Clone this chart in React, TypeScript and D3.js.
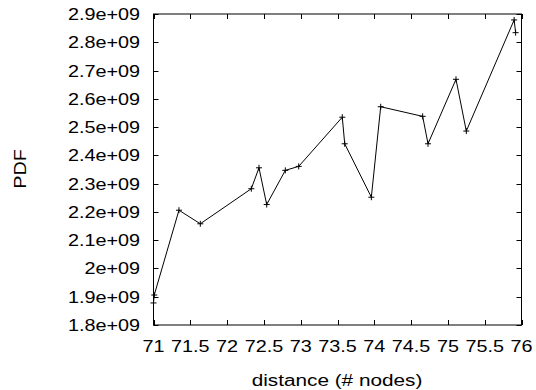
import React, { useEffect, useRef } from 'react';
import * as d3 from 'd3';

// distance (# nodes) vs PDF
const distance = [71.0, 71.01, 71.346, 71.636, 72.329, 72.433, 72.538, 72.791, 72.973, 73.565, 73.598, 73.96, 74.087, 74.657, 74.73, 75.11, 75.25, 75.9, 75.92];
const pdf = [1.878e9, 1.906e9, 2.206e9, 2.158e9, 2.282e9, 2.356e9, 2.226e9, 2.347e9, 2.361e9, 2.535e9, 2.441e9, 2.252e9, 2.572e9, 2.538e9, 2.441e9, 2.669e9, 2.486e9, 2.879e9, 2.834e9];
const xTicks = [71, 71.5, 72, 72.5, 73, 73.5, 74, 74.5, 75, 75.5, 76];
const yTicks = [1.8e9, 1.9e9, 2.0e9, 2.1e9, 2.2e9, 2.3e9, 2.4e9, 2.5e9, 2.6e9, 2.7e9, 2.8e9, 2.9e9];
const yTickLabels = ['1.8e+09', '1.9e+09', '2e+09', '2.1e+09', '2.2e+09', '2.3e+09', '2.4e+09', '2.5e+09', '2.6e+09', '2.7e+09', '2.8e+09', '2.9e+09'];

const width = 536;
const height = 390;
const left = 153.5;
const right = 521.5;
const top = 14;
const bottom = 325;
const font = '"Liberation Sans", Arial, sans-serif';
const stretch = 1.2;

export default function App() {
    const ref = useRef<SVGSVGElement>(null);

    useEffect(() => {
        const svg = d3.select(ref.current);
        svg.selectAll('*').remove();

        const x = d3.scaleLinear().domain([71, 76]).range([left, right]);
        const y = d3.scaleLinear().domain([1.8e9, 2.9e9]).range([bottom, top]);

        const addText = (tx: number, ty: number, str: string, anchor: string, rot = 0, size = 16.5) => {
            svg.append('text')
                .attr('transform', `translate(${tx},${ty}) rotate(${rot}) scale(${stretch},1)`)
                .attr('text-anchor', anchor)
                .attr('font-family', font)
                .attr('font-size', size)
                .attr('fill', '#000')
                .text(str);
        };

        // ticks, mirrored on all four sides, pointing inwards
        const tickLen = 5;
        const ticks = svg.append('g').attr('stroke', '#000').attr('stroke-width', 1);
        xTicks.forEach(t => {
            const px = Math.round(x(t)) + 0.5;
            ticks.append('line').attr('x1', px).attr('x2', px).attr('y1', bottom).attr('y2', bottom - tickLen);
            ticks.append('line').attr('x1', px).attr('x2', px).attr('y1', top).attr('y2', top + tickLen);
            addText(x(t), 352, String(t), 'middle');
        });
        yTicks.forEach((t, i) => {
            const py = Math.round(y(t)) + 0.5;
            ticks.append('line').attr('x1', left).attr('x2', left + tickLen).attr('y1', py).attr('y2', py);
            ticks.append('line').attr('x1', right).attr('x2', right - tickLen).attr('y1', py).attr('y2', py);
            addText(140, y(t) + 6, yTickLabels[i], 'end');
        });

        // frame
        svg.append('rect')
            .attr('x', left).attr('y', top)
            .attr('width', right - left).attr('height', bottom - top)
            .attr('fill', 'none').attr('stroke', '#000').attr('stroke-width', 1);

        // series line
        const pts: [number, number][] = distance.map((d, i) => [x(d), y(pdf[i])]);
        svg.append('path')
            .attr('d', d3.line()(pts))
            .attr('fill', 'none')
            .attr('stroke', '#000')
            .attr('stroke-width', 1);

        // plus markers
        const m = 3;
        const marks = svg.append('g').attr('stroke', '#000').attr('stroke-width', 1);
        pts.forEach(([px, py]) => {
            marks.append('line').attr('x1', px - m).attr('x2', px + m).attr('y1', py).attr('y2', py);
            marks.append('line').attr('x1', px).attr('x2', px).attr('y1', py - m).attr('y2', py + m);
        });

        // axis titles
        addText(337, 385.5, 'distance (# nodes)', 'middle', 0, 17.3);
        addText(26, 169, 'PDF', 'middle', -90);
    }, []);

    return (
        <div style={{ position: 'absolute', left: 0, top: 0 }}>
            <svg ref={ref} width={width} height={height} style={{ display: 'block', background: '#fff' }} />
        </div>
    );
}
